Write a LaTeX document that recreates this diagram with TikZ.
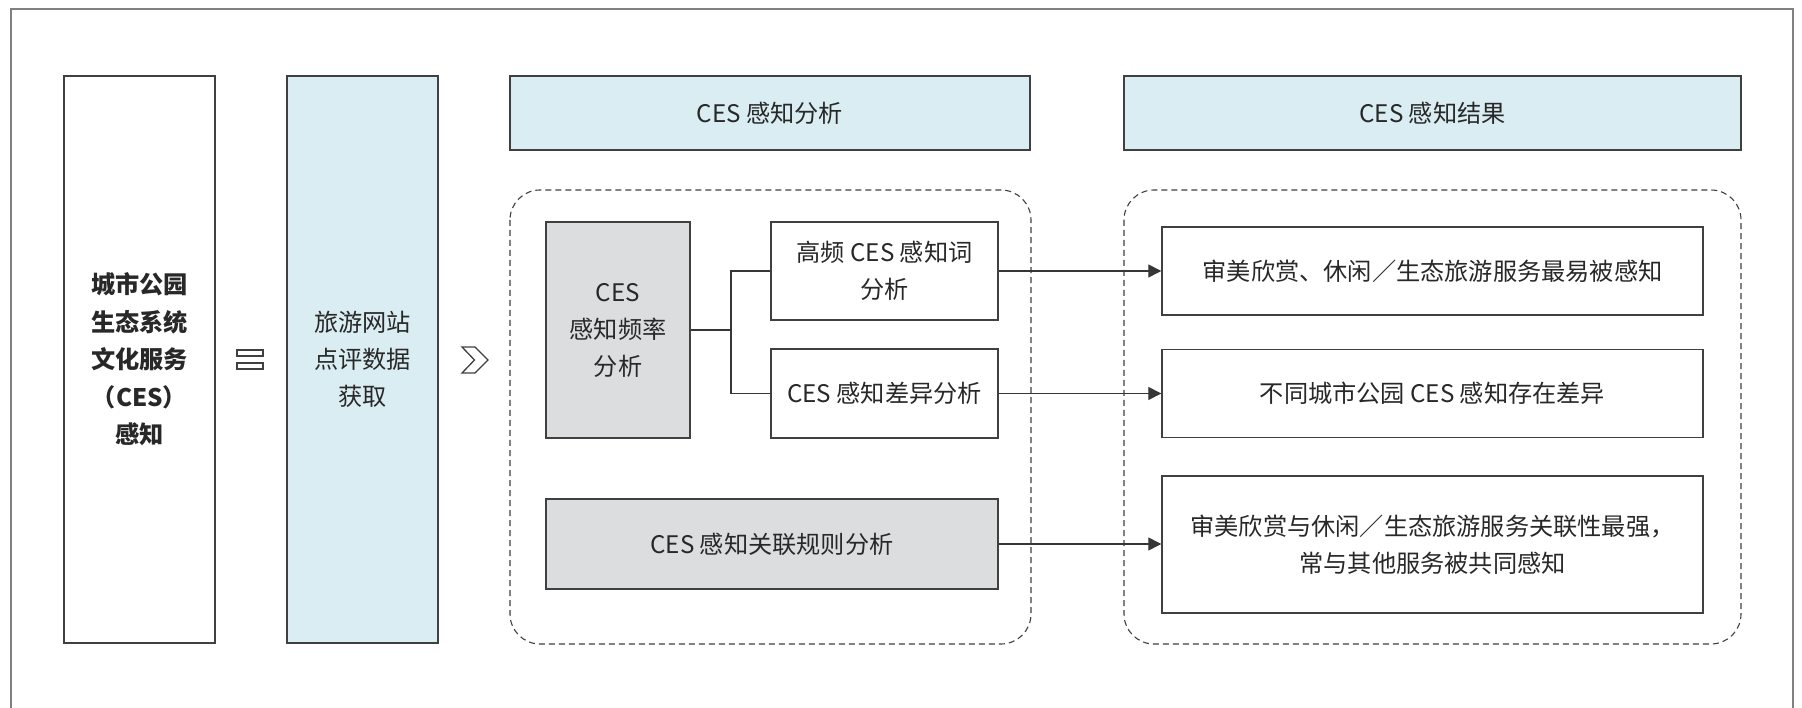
\documentclass[tikz,border=0pt]{standalone}
\usepackage{fontspec}
\setmainfont{Noto Sans CJK SC}
\usetikzlibrary{arrows.meta}
\definecolor{lblue}{RGB}{218,237,243}
\definecolor{lgray}{RGB}{220,221,223}
\definecolor{edgec}{RGB}{64,64,64}
\definecolor{txtc}{RGB}{40,40,40}
\definecolor{framec}{RGB}{128,128,128}
\begin{document}
\begin{tikzpicture}[x=1pt,y=-1pt,
  box/.style={draw=edgec, line width=1.4pt, inner sep=0pt, align=center, text=txtc,
    font=\fontsize{24.2}{37}\selectfont},
  bluebox/.style={box, fill=lblue},
  graybox/.style={box, fill=lgray},
  whitebox/.style={box, fill=white},
  dashbox/.style={draw=edgec, line width=1.1pt, dash pattern=on 6pt off 4pt, rounded corners=30pt},
  conn/.style={draw=edgec!85!black, line width=1.2pt},
  arrowc/.style={conn, -{Triangle[length=13pt,width=13pt]}},
  symb/.style={draw=edgec, line width=1.3pt}
]
\useasboundingbox (0,0) rectangle (1802,708);
\fill[white] (0,0) rectangle (1802,708);
% outer frame (no bottom edge)
\draw[framec, line width=1.3pt] (11,708) -- (11,9) -- (1793,9) -- (1793,708);

% left column boxes
\node[whitebox, minimum width=151pt, minimum height=567pt, font=\fontsize{24.2}{37.5}\selectfont\bfseries]
  (topic) at (139.5,359.5) {城市公园\\生态系统\\文化服务\\（CES）\\感知};
\node[bluebox, minimum width=151pt, minimum height=567pt]
  (data) at (362.5,359.5) {旅游网站\\点评数据\\获取};

% "=" symbol
\draw[symb] (237,350) rectangle (263,356);
\draw[symb] (237,363) rectangle (263,369);
% chevron symbol
\draw[symb, line join=miter] (462,347) -- (475,347) -- (488,360) -- (475,373) -- (462,373) -- (474.5,360) -- cycle;

% headers
\node[bluebox, minimum width=520pt, minimum height=74pt] (h1) at (770,113) {CES 感知分析};
\node[bluebox, minimum width=617pt, minimum height=74pt] (h2) at (1432.5,113) {CES 感知结果};

% dashed groups
\draw[dashbox] (510,190) rectangle (1031,644);
\draw[dashbox] (1124,190) rectangle (1741,644);

% analysis boxes
\node[graybox, minimum width=144pt, minimum height=216pt] (freq) at (618,330) {CES\\感知频率\\分析};
\node[whitebox, minimum width=227pt, minimum height=98pt] (hf) at (884.5,271) {高频 CES 感知词\\分析};
\node[whitebox, minimum width=227pt, minimum height=89pt] (diff) at (884.5,393.5) {CES 感知差异分析};
\node[graybox, minimum width=452pt, minimum height=90pt] (assoc) at (772,544) {CES 感知关联规则分析};

% result boxes
\node[whitebox, minimum width=541pt, minimum height=88pt] (r1) at (1432.5,271) {审美欣赏、休闲／生态旅游服务最易被感知};
\node[whitebox, minimum width=541pt, minimum height=88pt] (r2) at (1432.5,393.5) {不同城市公园 CES 感知存在差异};
\node[whitebox, minimum width=541pt, minimum height=137pt] (r3) at (1432.5,544.5) {审美欣赏与休闲／生态旅游服务关联性最强，\\常与其他服务被共同感知};

% tree connectors
\coordinate (jn) at (731,330);
\draw[conn] (freq.east) -- (jn);
\draw[conn] (hf.west) -| (jn) |- (diff.west);

% arrows
\draw[arrowc] (hf.east) -- (r1.west);
\draw[arrowc] (diff.east) -- (r2.west);
\draw[arrowc] (assoc.east) -- (assoc.east -| r3.west);
\end{tikzpicture}
\end{document}
